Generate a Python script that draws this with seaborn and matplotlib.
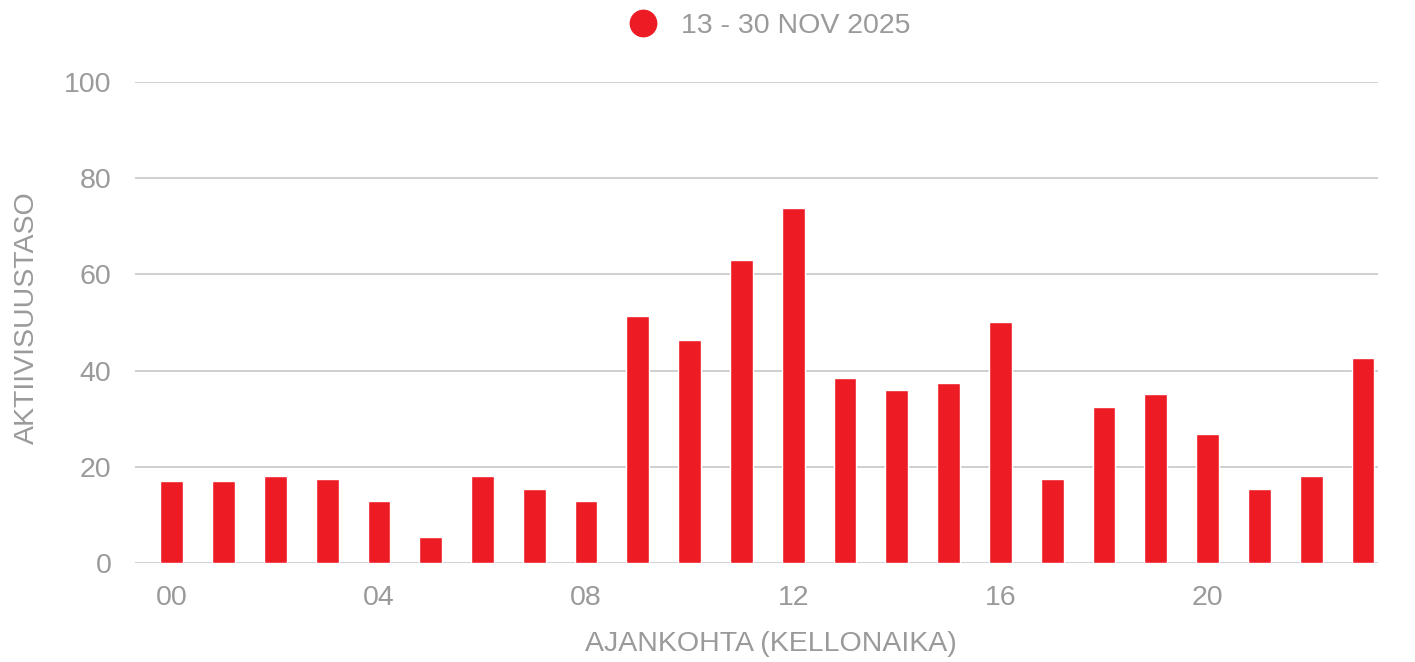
import matplotlib
matplotlib.use("Agg")
import matplotlib.pyplot as plt
import seaborn as sns
import pandas as pd
from matplotlib.lines import Line2D

hours = [f"{h:02d}" for h in range(24)]
values = [17.0, 17.0, 18.1, 17.5, 12.9, 5.4, 18.1, 15.4, 12.9, 51.4, 46.4, 63.0,
          73.8, 38.5, 36.0, 37.4, 50.1, 17.5, 32.4, 35.1, 26.8, 15.4, 18.1, 42.6]
series_label = "13 - 30 NOV 2025"
tick_labels = ["00", "04", "08", "12", "16", "20"]
y_ticks = [0, 20, 40, 60, 80, 100]

RED = "#ED1C24"
GRAY = "#9a9a9a"
FS = 20.5

sns.set_theme(style="white")
plt.rcParams["font.family"] = ["Liberation Sans", "DejaVu Sans"]

df = pd.DataFrame({"hour": hours, "value": values})

fig = plt.figure(figsize=(14.15, 6.62), dpi=100)
ax = fig.add_axes([0.0954, 0.1495, 0.8784, 0.7266])

sns.barplot(data=df, x="hour", y="value", color=RED, saturation=1, width=0.44,
            ax=ax, zorder=3)

ax.set_xlim(-0.71, 23.29)
ax.set_ylim(0, 100)
ax.set_yticks(y_ticks)
ax.set_yticklabels([str(t) for t in y_ticks])
ax.set_xticks([hours.index(t) for t in tick_labels])
ax.set_xticklabels(tick_labels)
ax.grid(axis="y", color="#cfcfcf", linewidth=1.4, zorder=0)
ax.grid(axis="x", visible=False)
for s in ax.spines.values():
    s.set_visible(False)
ax.tick_params(axis="both", length=0, labelsize=FS, labelcolor=GRAY)
ax.tick_params(axis="y", pad=17)
ax.tick_params(axis="x", pad=16)
ax.set_xlabel("AJANKOHTA (KELLONAIKA)", fontsize=FS, color=GRAY, labelpad=14)
ax.xaxis.label.set_x(0.512)
ax.set_ylabel("AKTIIVISUUSTASO", fontsize=FS, color=GRAY, labelpad=17)
ax.yaxis.label.set_y(0.51)

handle = Line2D([], [], marker="o", linestyle="none", markersize=19,
                markerfacecolor=RED, markeredgecolor=RED)
fig.legend([handle], [series_label], loc="center", bbox_to_anchor=(0.544, 0.961),
           frameon=False, fontsize=FS, labelcolor=GRAY, handletextpad=0.85,
           handlelength=1.0)

fig.savefig("out.png", dpi=100)
